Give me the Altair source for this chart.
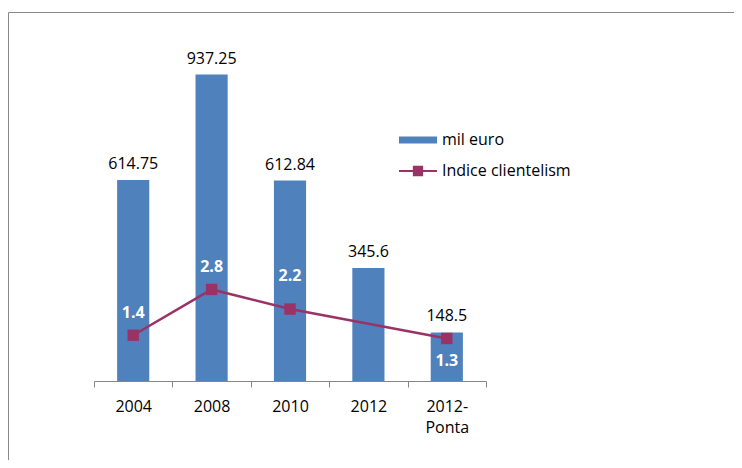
import altair as alt
import pandas as pd

categories = ["2004", "2008", "2010", "2012", "2012-Ponta"]
mil_euro = [614.75, 937.25, 612.84, 345.6, 148.5]
indice = [1.4, 2.8, 2.2, None, 1.3]
series_bar = "mil euro"
series_line = "Indice clientelism"

df = pd.DataFrame({"cat": categories, "mil": mil_euro, "idx": indice})

FONT = "Open Sans"
BLUE = "#4F81BD"
PURPLE = "#993366"

x_enc = alt.X(
    "cat:N",
    sort=categories,
    scale=alt.Scale(paddingInner=0, paddingOuter=0),
    axis=alt.Axis(
        title=None,
        labelAngle=0,
        tickBand="extent",
        labelExpr="indexof(datum.label,'-')>0 ? [slice(datum.label,0,indexof(datum.label,'-')+1), slice(datum.label,indexof(datum.label,'-')+1)] : datum.label",
    ),
)

base = alt.Chart(df).encode(x=x_enc)

y_bar = alt.Y("mil:Q", scale=alt.Scale(domain=[0, 1000]), axis=None)
y_line = alt.Y("idx:Q", scale=alt.Scale(domain=[0, 10]), axis=None)

bars = base.mark_bar(width=alt.RelativeBandSize(0.41)).transform_calculate(
    s1=f"'{series_bar}'"
).encode(
    y=y_bar,
    color=alt.Color(
        "s1:N",
        scale=alt.Scale(domain=[series_bar], range=[BLUE]),
        legend=alt.Legend(
            orient="none", legendX=305, legendY=67, title=None, padding=0,
            symbolType="M-1,-0.18H1V0.18H-1Z", symbolSize=1444,
            symbolStrokeWidth=0, labelOffset=5,
        ),
    ),
)
bar_labels = base.mark_text(dy=-16, fontSize=16, font=FONT, color="#000").encode(
    y=y_bar, text=alt.Text("mil:Q", format="~f")
)

line_data = base.transform_filter("isValid(datum.idx)")
line = line_data.mark_line(color=PURPLE, strokeWidth=2.5).encode(y=y_line)
points = line_data.mark_point(shape="square", filled=True, size=130, opacity=1).transform_calculate(
    s2=f"'{series_line}'"
).encode(
    y=y_line,
    fill=alt.Fill(
        "s2:N",
        scale=alt.Scale(domain=[series_line], range=[PURPLE]),
        legend=alt.Legend(
            orient="none", legendX=305, legendY=98, title=None, padding=0,
            symbolType="M-1,-0.05H1V0.05H-1Z M-0.27,-0.27H0.27V0.27H-0.27Z",
            symbolSize=1444, symbolStrokeWidth=0, labelOffset=5,
        ),
    ),
)
lab_style = dict(fontSize=16, font=FONT, fontWeight="bold", color="white")
lab_a = line_data.transform_filter(
    "datum.cat=='2004' || datum.cat=='2008'"
).mark_text(dy=-22, **lab_style).encode(y=y_line, text=alt.Text("idx:Q", format=".1f"))
lab_b = line_data.transform_filter("datum.cat=='2010'").mark_text(dy=-33, **lab_style).encode(
    y=y_line, text=alt.Text("idx:Q", format=".1f"))
lab_c = line_data.transform_filter("datum.cat=='2012-Ponta'").mark_text(dy=23, **lab_style).encode(
    y=y_line, text=alt.Text("idx:Q", format=".1f"))

frame = alt.Chart(alt.Data(values=[{}])).mark_rect(
    filled=False, stroke="#898989", strokeWidth=1, clip=False
).encode(x=alt.value(-85.5), x2=alt.value(3000), y=alt.value(-41.5), y2=alt.value(3000))

chart = alt.layer(
    frame,
    alt.layer(bars, bar_labels),
    alt.layer(line, points, lab_a, lab_b, lab_c),
).resolve_scale(y="independent", color="independent", fill="independent").properties(
    width=392,
    height=327,
    autosize=alt.AutoSizeParams(type="none"),
    padding={"left": 86, "top": 46, "right": 248, "bottom": 79},
).configure_view(stroke=None).configure_axisX(
    domainColor="#868686", tickColor="#868686", tickSize=6, domainWidth=1,
    labelFont=FONT, labelFontSize=16, labelColor="#000", labelPadding=11,
    labelLineHeight=21, grid=False,
).configure_legend(
    labelFont=FONT, labelFontSize=16, labelColor="#000"
)

chart.save("out.html", embed_options={"renderer": "svg", "actions": False})
